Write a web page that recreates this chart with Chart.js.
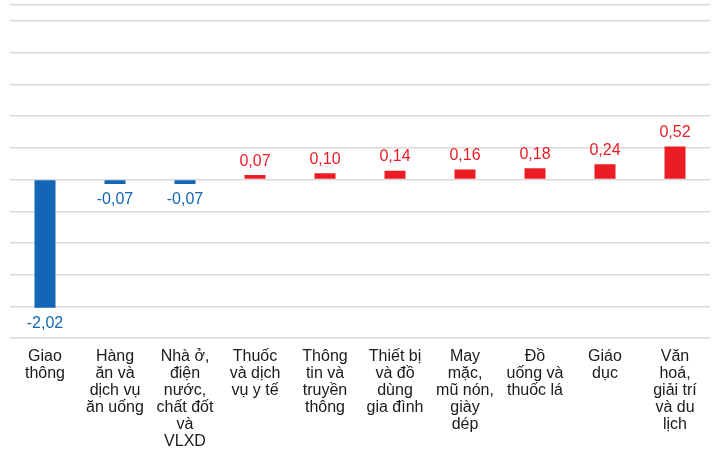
<!DOCTYPE html>
<html><head><meta charset="utf-8">
<script src="https://cdn.jsdelivr.net/npm/chart.js@4"></script>
<style>html,body{margin:0;padding:0;background:#fff}#w{width:720px;height:460px;position:relative}</style>
</head><body><div id="w"><canvas id="c"></canvas></div>
<script>
const categories = [
  ["Giao","thông"],
  ["Hàng","ăn và","dịch vụ","ăn uống"],
  ["Nhà ở,","điện","nước,","chất đốt","và","VLXD"],
  ["Thuốc","và dịch","vụ y tế"],
  ["Thông","tin và","truyền","thông"],
  ["Thiết bị","và đồ","dùng","gia đình"],
  ["May","mặc,","mũ nón,","giày","dép"],
  ["Đồ","uống và","thuốc lá"],
  ["Giáo","dục"],
  ["Văn","hoá,","giải trí","và du","lịch"]
];
const values = [-2.02, -0.07, -0.07, 0.07, 0.10, 0.14, 0.16, 0.18, 0.24, 0.52];
const colors = values.map(v => v < 0 ? '#1266b5' : '#ec1c24');
const fmt = v => v.toFixed(2).replace('.', ',');

const labelPlugin = {
  id: 'vals',
  afterDatasetsDraw(chart) {
    const ctx = chart.ctx;
    const meta = chart.getDatasetMeta(0);
    ctx.save();
    ctx.font = '16px "Liberation Sans", Arial, sans-serif';
    ctx.textAlign = 'center';
    meta.data.forEach((bar, i) => {
      const v = values[i];
      ctx.fillStyle = colors[i];
      if (v < 0) { ctx.textBaseline = 'top'; ctx.fillText(fmt(v), bar.x, bar.y + 8); }
      else { ctx.textBaseline = 'bottom'; ctx.fillText(fmt(v), bar.x, bar.y - 6); }
    });
    ctx.restore();
  }
};

new Chart(document.getElementById('c'), {
  type: 'bar',
  data: { labels: categories, datasets: [{ data: values, backgroundColor: colors, barPercentage: 0.6, categoryPercentage: 0.5 }] },
  options: {
    responsive: true, maintainAspectRatio: false, animation: false,
    layout: { padding: { left: 10, right: 10, top: 5, bottom: 0 } },
    plugins: { legend: { display: false }, tooltip: { enabled: false } },
    scales: {
      y: { min: -2.5, max: 2.75, ticks: { display: false, stepSize: 0.5 },
           grid: { color: '#d9d9d9', lineWidth: 1.5, drawTicks: false }, border: { display: false } },
      x: { grid: { display: false, drawTicks: false }, border: { display: false },
           ticks: { color: '#1a1a1a', padding: 10, maxRotation: 0, autoSkip: false,
                    font: { family: '"Liberation Sans", Arial, sans-serif', size: 16, lineHeight: 1.06 } } }
    }
  },
  plugins: [labelPlugin]
});
</script></body></html>
